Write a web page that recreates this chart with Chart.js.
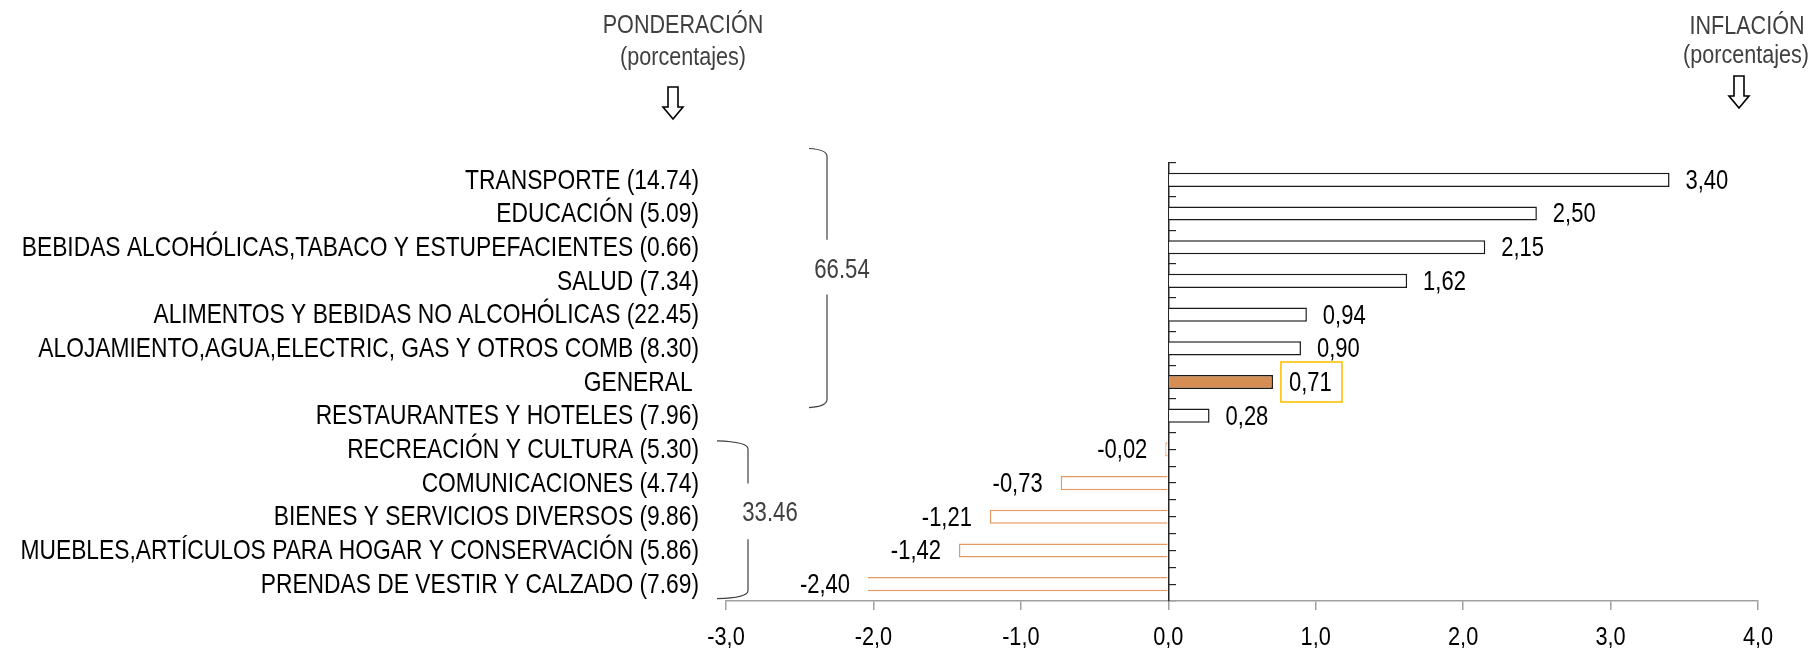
<!DOCTYPE html>
<html>
<head>
<meta charset="utf-8">
<script src="https://cdn.jsdelivr.net/npm/chart.js@4.4.1/dist/chart.umd.min.js"></script>
<style>
  html, body { margin: 0; padding: 0; background: #fff; }
  #wrap { width: 1813px; height: 648px; position: relative; }
</style>
</head>
<body>
<div id="wrap"><canvas id="chart"></canvas></div>
<script>
// categories (top to bottom) and their weights in the CPI basket
const names = [
    'TRANSPORTE',
    'EDUCACIÓN',
    'BEBIDAS ALCOHÓLICAS,TABACO Y ESTUPEFACIENTES',
    'SALUD',
    'ALIMENTOS Y BEBIDAS NO ALCOHÓLICAS',
    'ALOJAMIENTO,AGUA,ELECTRIC, GAS Y OTROS COMB',
    'GENERAL',
    'RESTAURANTES Y HOTELES',
    'RECREACIÓN Y CULTURA',
    'COMUNICACIONES',
    'BIENES Y SERVICIOS DIVERSOS',
    'MUEBLES,ARTÍCULOS PARA HOGAR Y CONSERVACIÓN',
    'PRENDAS DE VESTIR Y CALZADO',
];
const weights = ['14.74', '5.09', '0.66', '7.34', '22.45', '8.30', null, '7.96', '5.30', '4.74', '9.86', '5.86', '7.69'];
const inflation = [3.40, 2.50, 2.15, 1.62, 0.94, 0.90, 0.71, 0.28, -0.02, -0.73, -1.21, -1.42, -2.40];
const xTicks = [-3, -2, -1, 0, 1, 2, 3, 4];
const groupTotals = ['66.54', '33.46'];
const generalIndex = 6;

const labels = names.map((n, i) => weights[i] ? `${n} (${weights[i]})` : `${n} `);
const comma = (v, d) => v.toFixed(d).replace('.', ',');

// the chart uses a narrow face; squeeze Liberation Sans if the narrow one is missing
const probe = document.createElement('canvas').getContext('2d');
probe.font = '50px "Liberation Sans Narrow", monospace';
const wNarrow = probe.measureText('ABCDEFGH abcdefgh').width;
probe.font = '50px monospace';
const hasNarrow = wNarrow !== probe.measureText('ABCDEFGH abcdefgh').width;
const FACE = hasNarrow ? '"Liberation Sans Narrow", "Arial Narrow", sans-serif' : '"Liberation Sans", Arial, sans-serif';
const SX = hasNarrow ? 1 : 0.82;

const text = (ctx, str, x, y, size, align, color) => {
    ctx.save();
    ctx.font = `${size}px ${FACE}`;
    ctx.fillStyle = color;
    ctx.textAlign = align;
    ctx.textBaseline = 'middle';
    ctx.translate(x, y);
    ctx.scale(SX, 1);
    ctx.fillText(str, 0, 0);
    ctx.restore();
};

// bracket layout, in category units along the y axis
const brackets = [
    { total: groupTotals[0], x: 827, hook: 18, from: -0.9, to: 6.73, text: 2.7, gap: [1.78, 3.4], tx: 842 },
    { total: groupTotals[1], x: 748, hook: 31, from: 7.78, to: 12.4, text: 9.9, gap: [9.01, 10.67], tx: 770 },
];

const drawArrow = (ctx, cx, top, h) => {
    const sw = 5, hw = 10, hh = 12;
    ctx.beginPath();
    ctx.moveTo(cx - sw, top);
    ctx.lineTo(cx + sw, top);
    ctx.lineTo(cx + sw, top + h - hh);
    ctx.lineTo(cx + hw, top + h - hh);
    ctx.lineTo(cx, top + h);
    ctx.lineTo(cx - hw, top + h - hh);
    ctx.lineTo(cx - sw, top + h - hh);
    ctx.closePath();
    ctx.fillStyle = '#fff';
    ctx.fill();
    ctx.lineWidth = 1.6;
    ctx.strokeStyle = '#000';
    ctx.stroke();
};

const decorations = {
    id: 'decorations',
    afterDraw(chart) {
        const { ctx, scales: { x, y }, chartArea } = chart;
        ctx.save();

        // headers
        text(ctx, 'PONDERACIÓN', 683, 26, 26.3, 'center', '#404040');
        text(ctx, '(porcentajes)', 683, 58, 26.3, 'center', '#404040');
        text(ctx, 'INFLACIÓN', 1747, 27, 26.3, 'center', '#404040');
        text(ctx, '(porcentajes)', 1746, 56, 26.3, 'center', '#404040');
        drawArrow(ctx, 673, 87, 32);
        drawArrow(ctx, 1739, 76, 32);

        // category labels
        labels.forEach((l, i) => text(ctx, l, chartArea.left - 27, y.getPixelForValue(i) + 1, 27.8, 'right', '#000'));

        // x tick labels
        xTicks.forEach(v => text(ctx, comma(v, 1), x.getPixelForValue(v), chartArea.bottom + 37, 26.5, 'center', '#000'));

        // brackets with the group weights
        ctx.strokeStyle = '#404040';
        ctx.lineWidth = 1.2;
        brackets.forEach(b => {
            const yt = y.getPixelForValue(b.from);
            const yb = y.getPixelForValue(b.to);
            const g1 = y.getPixelForValue(b.gap[0]);
            const g2 = y.getPixelForValue(b.gap[1]);
            ctx.beginPath();
            ctx.moveTo(b.x - b.hook, yt - 1);
            ctx.quadraticCurveTo(b.x, yt, b.x, yt + 7);
            ctx.lineTo(b.x, g1);
            ctx.moveTo(b.x, g2);
            ctx.lineTo(b.x, yb - 7);
            ctx.quadraticCurveTo(b.x, yb, b.x - b.hook, yb + 1);
            ctx.stroke();
            text(ctx, b.total, b.tx, y.getPixelForValue(b.text), 27, 'center', '#404040');
        });

        // value labels
        const meta = chart.getDatasetMeta(0);
        const clipX = chartArea.left + 142;
        meta.data.forEach((bar, i) => {
            const v = inflation[i];
            const txt = comma(v, 2);
            if (v >= 0) {
                text(ctx, txt, bar.x + 16, bar.y + 1.5, 26.8, 'left', '#000');
            } else {
                text(ctx, txt, Math.max(bar.x, clipX) - 18, bar.y + 1.5, 26.8, 'right', '#000');
            }
            if (i === generalIndex) {
                ctx.strokeStyle = '#FFC000';
                ctx.lineWidth = 1.6;
                ctx.strokeRect(bar.x + 8, bar.y - 20, 61, 40);
            }
        });
        ctx.restore();
    },
};

new Chart(document.getElementById('chart'), {
    type: 'bar',
    data: {
        labels,
        datasets: [{
            data: inflation,
            backgroundColor: inflation.map((v, i) => i === generalIndex ? '#D68E55' : '#FFFFFF'),
            borderColor: inflation.map(v => v < 0 ? '#E39A62' : '#1A1A1A'),
            borderWidth: 1.5,
            barPercentage: 0.42,
            categoryPercentage: 1,
            clip: { left: -142, top: false, right: false, bottom: false },
        }],
    },
    options: {
        indexAxis: 'y',
        responsive: true,
        maintainAspectRatio: false,
        animation: false,
        layout: { padding: { top: 163, right: 55, bottom: 0, left: 0 } },
        plugins: {
            legend: { display: false },
            tooltip: { enabled: false },
        },
        scales: {
            x: {
                type: 'linear',
                min: -3,
                max: 4,
                afterBuildTicks: s => { s.ticks = xTicks.map(v => ({ value: v })); },
                afterFit: s => { s.height = 47; },
                grid: { drawOnChartArea: false, tickLength: 9, color: '#A0A0A0', lineWidth: 1.5 },
                border: { color: '#A0A0A0', width: 1.5 },
                ticks: { display: false },
            },
            y: {
                type: 'category',
                position: 'left',
                offset: true,
                afterFit: s => { s.width = 726; },
                grid: { display: false },
                border: { display: false },
                ticks: { display: false },
            },
            yEdge: {
                type: 'category',
                axis: 'y',
                position: { x: 0 },
                offset: true,
                grid: { offset: true, drawOnChartArea: false, tickLength: -8, color: '#262626', lineWidth: 1.2 },
                border: { color: '#262626', width: 1.5 },
                ticks: { display: false },
            },
            yMid: {
                type: 'category',
                axis: 'y',
                position: { x: 0 },
                offset: true,
                grid: { offset: false, drawOnChartArea: false, tickLength: -8, color: '#262626', lineWidth: 1.2 },
                border: { display: false },
                ticks: { display: false },
            },
        },
    },
    plugins: [decorations],
});
</script>
</body>
</html>
